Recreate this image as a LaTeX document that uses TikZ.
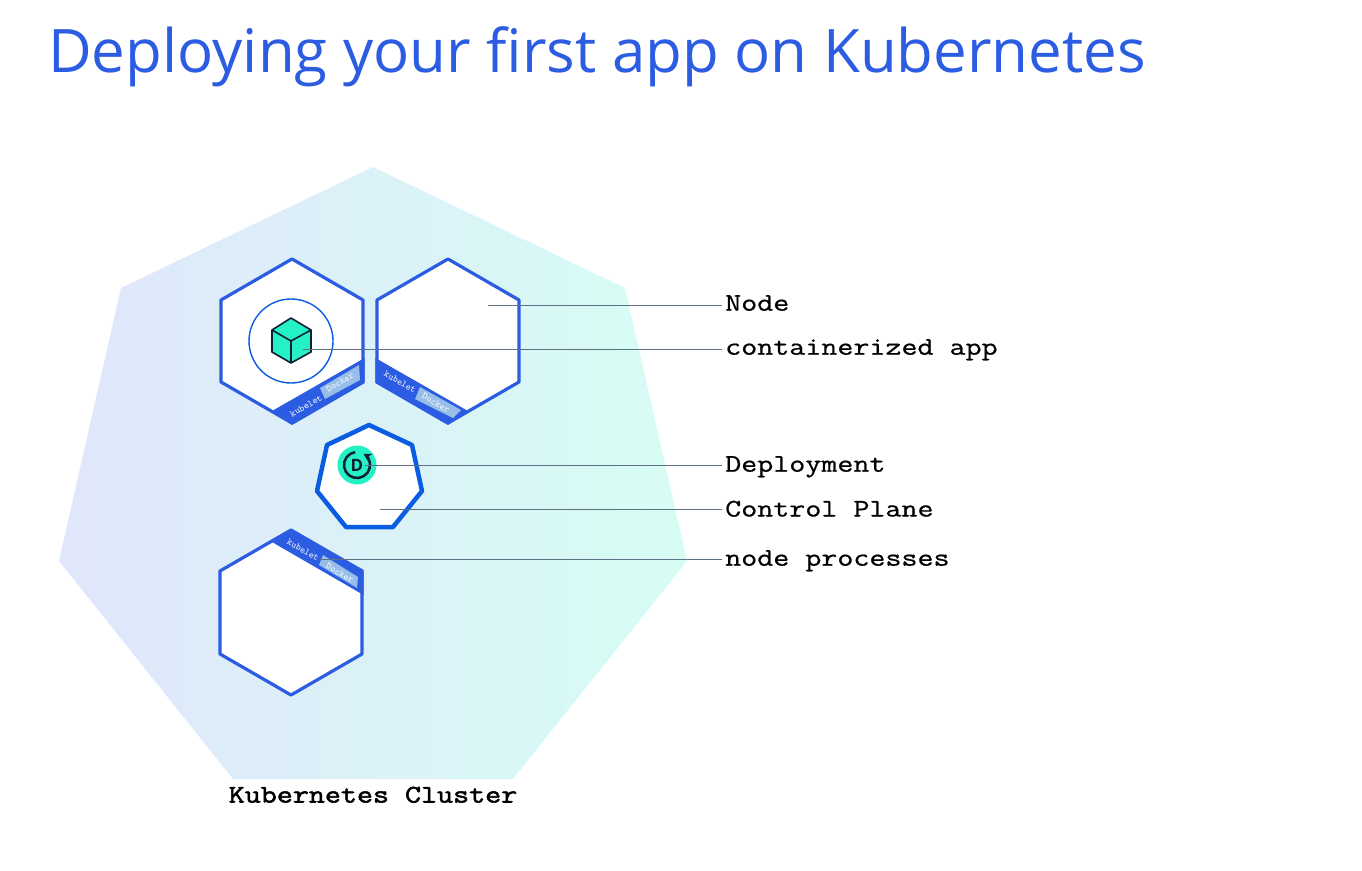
\documentclass[tikz,border=0pt]{standalone}
\usepackage{fontspec}
\usepackage{xcolor}
\setmainfont{Open Sans}
\newfontfamily\labelmono[FakeBold=0.7,FakeStretch=1.23]{Latin Modern Mono}
\newfontfamily\clustermono[FakeBold=2.2,FakeStretch=1.23]{Latin Modern Mono}
\newfontfamily\tagmono{Latin Modern Mono}
\definecolor{kubeblue}{RGB}{43,92,226}
\definecolor{planeblue}{RGB}{10,92,226}
\definecolor{dockerblue}{RGB}{150,190,232}
\definecolor{mintgreen}{RGB}{36,242,196}
\definecolor{inkdark}{RGB}{12,30,56}
\definecolor{leadergray}{RGB}{96,112,132}
\definecolor{clusterleft}{RGB}{224,230,251}
\definecolor{clusterright}{RGB}{214,253,244}
\usetikzlibrary{positioning,arrows.meta}

\begin{document}
\begin{tikzpicture}[
      x=1pt,y=-1pt,
      lbl/.style={font=\labelmono\fontsize{25.3}{25.3}\selectfont,anchor=west,
        inner xsep=3pt,inner ysep=0pt,text height=15pt,text depth=0pt},
      lblup/.style={lbl,text depth=3.6pt},
      lblhalf/.style={lbl,text depth=1.6pt},
      hexbox/.style={draw=kubeblue,line width=3.2pt,fill=white,line join=round},
      band/.style={fill=kubeblue},
      dockerbox/.style={fill=dockerblue},
      tag/.style={font=\tagmono\fontsize{9.6}{9.6}\selectfont,text=white,inner sep=0pt},
      leader/.style={draw=leadergray,line width=0.9pt}
    ]
    \useasboundingbox (0,0) rectangle (1362,870);
    \node[anchor=west,inner sep=0pt,text=kubeblue,font=\fontsize{60}{60}\selectfont]
    (title) at (48,57) {Deploying your first app on Kubernetes};
    \shade[left color=clusterleft,right color=clusterright]
    (373,167) -- (625,288) -- (687,561) -- (513,779) -- (233,779) -- (59,561) -- (121,288) -- cycle;

    \draw[hexbox] (292,259) -- (363,300) -- (363,382) -- (292,423) -- (221,382) -- (221,300) -- cycle;
    \fill[band] (272,411) -- (364.6,358) -- (364.6,383) -- (292,425) -- cycle;
    \fill[dockerbox] (320,388) -- (359,365) -- (360,380) -- (325,399) -- cycle;
    \node[tag,rotate=30] (kubeleta) at (306,406) {kubelet};
    \node[tag,rotate=30] (dockera) at (340,382) {Docker};

    \draw[hexbox] (448,259) -- (519,300) -- (519,382) -- (448,423) -- (377,382) -- (377,300) -- cycle;
    \fill[band] (468,411) -- (375.4,358) -- (375.4,383) -- (448,425) -- cycle;
    \fill[dockerbox] (420,387) -- (461,410) -- (453,418) -- (415,399) -- cycle;
    \node[tag,rotate=-30] (kubeletb) at (400,382) {kubelet};
    \node[tag,rotate=-30] (dockerb) at (436,403) {Docker};

    \draw[hexbox] (291,530) -- (362,571) -- (362,654) -- (291,695) -- (220,654) -- (220,571) -- cycle;
    \fill[band] (272,542) -- (291,529) -- (363.6,570) -- (363.6,595) -- cycle;
    \fill[dockerbox] (323,555) -- (358,577) -- (357,588) -- (319,565) -- cycle;
    \node[tag,rotate=-30] (kubeletc) at (303,550) {kubelet};
    \node[tag,rotate=-30] (dockerc) at (340,573) {Docker};

    \draw[draw=planeblue,line width=4.5pt,fill=white,line join=round]
    (369,425) -- (412,445) -- (422,491) -- (393,527) -- (346,527) -- (317,491) -- (327,445) -- cycle;

    \draw[planeblue,line width=1.4pt] (291,341) circle[radius=42];
    \draw[draw=inkdark,fill=mintgreen,line width=1.6pt,line join=round]
    (291,318) -- (311,330) -- (311,352) -- (291,363) -- (272,352) -- (272,330) -- cycle;
    \draw[draw=inkdark,line width=1.6pt,line join=round]
    (272,330) -- (291,341) -- (311,330) (291,341) -- (291,363);

    \fill[mintgreen] (357,465) circle[radius=19.5];
    \draw[inkdark,line width=2.5pt,-{Stealth[length=8pt,width=9pt]}]
    (357,465) ++(-98:13) arc[start angle=-98,end angle=-420,radius=13];
    \node[inner sep=0pt,text=inkdark,font=\bfseries\fontsize{17}{17}\selectfont] (deployD) at (357,465) {D};

    \coordinate (nodept) at (488,305);
    \coordinate (apppt) at (303,349);
    \coordinate (deploypt) at (365,465);
    \coordinate (planept) at (380,509);
    \coordinate (procpt) at (320,559);
    \node[lblup] (nodelbl) at (722,305) {Node};
    \node[lblup] (applbl) at (722,349) {containerized app};
    \node[lblhalf] (deploylbl) at (722,465) {Deployment};
    \node[lbl] (planelbl) at (722,509) {Control Plane};
    \node[lblhalf] (proclbl) at (722,559) {node processes};
    \draw[leader] (nodept) -- (nodelbl.west);
    \draw[leader] (apppt) -- (applbl.west);
    \draw[leader] (deploypt) -- (deploylbl.west);
    \draw[leader] (planept) -- (planelbl.west);
    \draw[leader] (procpt) -- (proclbl.west);
    \node[lbl,anchor=center,font=\clustermono\fontsize{25.3}{25.3}\selectfont] (clusterlbl) at (373,795) {Kubernetes Cluster};
  \end{tikzpicture}
\end{document}
